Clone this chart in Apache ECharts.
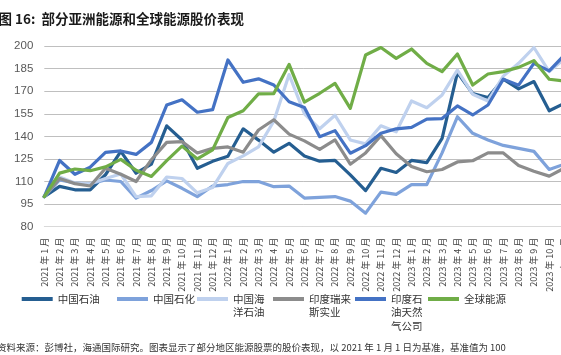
<!DOCTYPE html>
<html><head><meta charset="utf-8">
<script src="https://cdn.jsdelivr.net/npm/echarts@6/dist/echarts.min.js"></script>
<style>html,body{margin:0;padding:0;background:#fff}#c{width:561px;height:355px}</style>
</head><body><div id="c"></div>
<script>
const titleText = '图 16:  部分亚洲能源和全球能源股价表现';
const footerText = '资料来源：彭博社，海通国际研究。图表显示了部分地区能源股票的股价表现，以 2021 年 1 月 1 日为基准，基准值为 100';

const categories = [
  '2021年1月','2021年2月','2021年3月','2021年4月','2021年5月','2021年6月','2021年7月','2021年8月','2021年9月','2021年10月','2021年11月','2021年12月',
  '2022年1月','2022年2月','2022年3月','2022年4月','2022年5月','2022年6月','2022年7月','2022年8月','2022年9月','2022年10月','2022年11月','2022年12月',
  '2023年1月','2023年2月','2023年3月','2023年4月','2023年5月','2023年6月','2023年7月','2023年8月','2023年9月','2023年10月','2023年11月'
];

const yMin = 80, yMax = 200, yStep = 15;

const seriesNames = ['中国石油','中国石化','中国海洋石油','印度瑞来斯实业','印度石油天然气公司','全球能源'];
const legendLabels = ['中国石油','中国石化','中国海\n洋石油','印度瑞来\n斯实业','印度石\n油天然\n气公司','全球能源'];

const petroChina = [100,106.8,104.5,104.5,114.5,130,115.5,121.5,147,137.6,118.8,123.4,126.8,145,137.5,129.5,135.4,127,123.5,124,114.4,104,118.8,116,124,122.5,138.6,182.3,168.5,165.8,178,171.5,176.4,157,162];
const sinopec = [100,111,109,108.5,111,110,99,104,110.4,105.5,100,107,108,110,110,106.6,107,99,99.5,100,97,89,103,101.5,108,108,129,153,142,137.6,134,132,130,118,121.5];
const cnooc = [100,113,109,108.5,112,115,100,100.5,113,112,102.5,106,122,127,133,150,181,155,145,154,137.6,135,147,143,163.5,159,167.5,184,168,163.5,180,188.5,199,183,191.5];
const reliance = [100,112,108.6,107,118.8,114.8,110,124.5,136,136.5,129,132,133,129.5,144.2,151,141.5,137,131.4,137.6,121.5,129,140.5,128.5,120,116.5,118,123,123.8,129,129,120.7,116.8,113.6,119];
const ongc = [100,124,114.8,119.5,129.4,130.3,128,136,160.8,164.3,156,157.7,190.7,175.9,178.2,174.1,163,159.2,139.8,143.8,128.8,133.8,142,145,146,151.5,151.8,160.2,154.2,160.8,178,174,188.5,183.5,194];
const globalEnergy = [100,115.6,118.3,117.2,119.7,124.7,117.5,113.4,123.9,133.5,125,131,152.5,157,168.2,168.4,187.8,162.7,168.6,175.2,158.6,194,199,191.8,198,188.5,183,194.7,174.1,181.4,183,185.8,190.3,177.9,176.7];

const seriesValues = [petroChina, sinopec, cnooc, reliance, ongc, globalEnergy];
const seriesColors = ['#255E91','#7EA2DB','#BFD1EE','#8C8C8C','#4472C4','#70AD47'];

const legendLeft = [21.7, 117, 197, 273, 355, 428];
const legendIconY = 299;
const legendLH = 13.3;

const cjk = '"Noto Sans CJK SC", "Noto Sans", sans-serif';

const chart = echarts.init(document.getElementById('c'), null, {renderer: 'canvas'});

const legends = seriesNames.map((name, i) => {
  const n = legendLabels[i].split('\n').length;
  const shown = '\n'.repeat(n - 1) + legendLabels[i];
  return {
    left: legendLeft[i],
    top: legendIconY - 2 - (2 * n - 1) * legendLH / 2 + 2,
    padding: 0,
    orient: 'horizontal',
    icon: 'rect',
    itemWidth: 31,
    itemHeight: 4,
    selectedMode: false,
    formatter: () => shown,
    textStyle: {fontSize: 10.5, lineHeight: legendLH, color: '#333', fontFamily: cjk},
    data: [name]
  };
});

const option = {
  animation: false,
  backgroundColor: '#fff',
  title: [
    {text: titleText, left: -1.5, top: 11, padding: 0,
     textStyle: {fontSize: 13.5, fontWeight: 'bold', color: '#1a1a1a', fontFamily: cjk, lineHeight: 16}},
    {text: footerText, left: -3, top: 341, padding: 0,
     textStyle: {fontSize: 9.5, fontWeight: 'normal', color: '#333', fontFamily: cjk, lineHeight: 12}}
  ],
  legend: legends,
  grid: {left: 44.3, top: 46, bottom: 128.3, right: -3.5, containLabel: false, outerBoundsMode: 'none'},
  xAxis: {
    type: 'category',
    data: categories,
    boundaryGap: false,
    axisLine: {show: true, lineStyle: {color: '#D9D9D9', width: 1}},
    axisTick: {show: false},
    axisLabel: {interval: 0, rotate: 90, fontSize: 9, color: '#404040', margin: 11,
                formatter: v => v.replace('年', ' 年 ').replace('月', ' 月'),
                fontFamily: cjk},
    splitLine: {show: false}
  },
  yAxis: {
    type: 'value',
    min: yMin, max: yMax, interval: yStep,
    axisLine: {show: false},
    axisTick: {show: false},
    axisLabel: {fontSize: 11.5, color: '#595959', margin: 11, fontFamily: '"Liberation Sans", Arial, sans-serif'},
    splitLine: {show: true, lineStyle: {color: '#BFBFBF', width: 1}}
  },
  series: seriesNames.map((name, i) => ({
    name: name,
    type: 'line',
    data: seriesValues[i],
    symbol: 'none',
    smooth: false,
    color: seriesColors[i],
    lineStyle: {width: 3.2, color: seriesColors[i], cap: 'round', join: 'round'},
    emphasis: {disabled: true}
  }))
};
chart.setOption(option);
</script>
</body></html>
